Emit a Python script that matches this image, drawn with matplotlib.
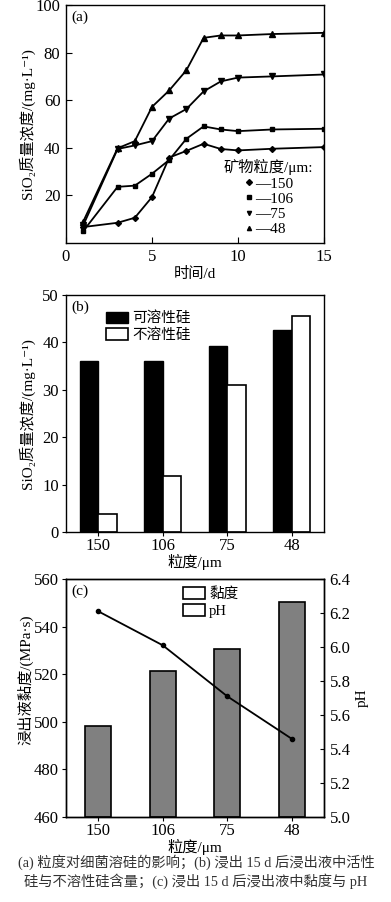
import numpy as np
import matplotlib
matplotlib.use("Agg")
import matplotlib.pyplot as plt
from matplotlib.patches import Patch

plt.rcParams['font.family'] = ['Liberation Serif', 'Noto Sans CJK SC', 'DejaVu Sans']
plt.rcParams['axes.linewidth'] = 1.0

# (a) SiO2 vs time
days = [1, 3, 4, 5, 6, 7, 8, 9, 10, 12, 15]
si_150 = [6.7, 8.5, 10.6, 19.3, 35.9, 38.7, 41.7, 39.5, 38.9, 39.6, 40.3]
si_106 = [5.0, 23.6, 24.1, 29.1, 34.9, 43.8, 49.0, 47.7, 47.0, 47.7, 48.0]
si_75 = [7.4, 39.5, 41.0, 42.8, 52.3, 56.3, 63.7, 67.9, 69.5, 70.0, 70.8]
si_48 = [9.0, 39.8, 42.8, 57.2, 64.1, 72.6, 86.2, 87.2, 87.2, 87.8, 88.3]
series_labels = ['\u2014150', '\u2014106', '\u201475', '\u201448']
series_markers = ['D', 's', 'v', '^']

# (b) soluble / insoluble Si
sizes = ['150', '106', '75', '48']
soluble = [36.1, 36.1, 39.2, 42.6]
insoluble = [3.9, 11.9, 31.0, 45.6]

# (c) viscosity and pH
viscosity = [498.2, 521.2, 530.5, 550.3]
ph = [6.21, 6.01, 5.71, 5.46]

fig = plt.figure(figsize=(3.91, 9.02), dpi=100)
W, H = 391, 902

def add_ax(top, bottom, left=66, right=324):
    return fig.add_axes([left / W, 1 - bottom / H, (right - left) / W, (bottom - top) / H])

fs_tick = 12
fs_lab = 11
si_label = 'SiO\u2082质量浓度/(mg·L\u207b\u00b9)'

# ---- (a)
ax1 = add_ax(5, 243)
for ys, m, lab, ms in zip([si_150, si_106, si_75, si_48], series_markers,
                          series_labels, [3, 3.5, 4, 4]):
    ax1.plot(days, ys, color='black', lw=1.3, marker=m, ms=ms, label=lab)
ax1.set_xlim(0, 15)
ax1.set_ylim(0, 100)
ax1.set_xticks([0, 5, 10, 15])
ax1.set_yticks([20, 40, 60, 80, 100])
ax1.tick_params(direction='in', length=4, labelsize=fs_tick, pad=4)
ax1.set_xlabel('时间/d', fontsize=fs_lab, labelpad=2)
ax1.set_ylabel(si_label, fontsize=fs_lab)
ax1.yaxis.set_label_coords(-0.12, 0.5)
ax1.text(0.02, 0.975, '(a)', transform=ax1.transAxes, fontsize=11, va='top', ha='left')
handles, labels = ax1.get_legend_handles_labels()
ax1.legend([plt.Line2D([], [], ls='none', marker=m, color='black', ms=3)
            for m in series_markers], labels,
           title='矿物粒度/μm:', frameon=False, fontsize=11,
           title_fontsize=11, loc='lower right', bbox_to_anchor=(0.995, -0.01),
           handlelength=0.6, handletextpad=0.1, labelspacing=0.1,
           borderaxespad=0.2)

# ---- (b)
ax2 = add_ax(295, 532)
x = np.arange(len(sizes))
w = 0.285
ax2.bar(x - w / 2, soluble, w, color='black', edgecolor='black', lw=1.0, label='可溶性硅')
ax2.bar(x + w / 2, insoluble, w, color='white', edgecolor='black', lw=1.2, label='不溶性硅')
ax2.set_xlim(-0.5, 3.5)
ax2.set_ylim(0, 50)
ax2.set_xticks(x)
ax2.set_xticklabels(sizes)
ax2.tick_params(direction='out', length=3, labelsize=fs_tick, pad=2)
ax2.tick_params(axis='x', pad=1)
ax2.set_xlabel('粒度/μm', fontsize=fs_lab, labelpad=0)
ax2.set_ylabel(si_label, fontsize=fs_lab)
ax2.yaxis.set_label_coords(-0.12, 0.5)
ax2.text(0.02, 0.975, '(b)', transform=ax2.transAxes, fontsize=11, va='top', ha='left')
ax2.legend(frameon=False, fontsize=10.5, loc='upper left', bbox_to_anchor=(0.155, 0.93),
           handlelength=1.5, handleheight=0.85, handletextpad=0.3, labelspacing=0.2,
           borderaxespad=0, borderpad=0)

# ---- (c)
ax3 = add_ax(579, 817)
w3 = 0.40
ax3.bar(x, [v - 460 for v in viscosity], w3, bottom=460, color='#808080',
        edgecolor='black', lw=1.2)
ax3.set_xlim(-0.5, 3.5)
ax3.set_ylim(460, 560)
ax3.set_yticks(np.arange(460, 561, 20))
ax3.set_xticks(x)
ax3.set_xticklabels(sizes)
ax3.tick_params(direction='out', length=3, labelsize=fs_tick, pad=2)
ax3.tick_params(axis='x', pad=1)
ax3.set_xlabel('粒度/μm', fontsize=fs_lab, labelpad=0)
ax3.set_ylabel('浸出液黏度/(MPa·s)', fontsize=fs_lab)
ax3.yaxis.set_label_coords(-0.128, 0.575)
ax3.text(0.02, 0.975, '(c)', transform=ax3.transAxes, fontsize=11, va='top', ha='left')

ax4 = ax3.twinx()
ax4.plot(x, ph, color='black', lw=1.3, marker='o', ms=3)
ax4.set_ylim(5.0, 6.4)
ph_ticks = np.arange(5.0, 6.41, 0.2)
ax4.set_yticks(ph_ticks)
ax4.set_yticklabels(['%.1f' % v for v in ph_ticks])
ax4.tick_params(direction='in', length=3, labelsize=fs_tick, pad=4)
ax4.set_ylabel('pH', fontsize=fs_lab, labelpad=4)

ax3.legend([Patch(facecolor='white', edgecolor='black', lw=1.2),
            Patch(facecolor='white', edgecolor='black', lw=1.2)],
           ['黏度', 'pH'], frameon=False, fontsize=10.5, loc='upper left',
           bbox_to_anchor=(0.453, 0.965), handlelength=1.5, handleheight=0.85,
           handletextpad=0.3, labelspacing=0.2, borderaxespad=0, borderpad=0)

# caption
fig.text(196 / W, 1 - 862 / H, '(a) 粒度对细菌溶硅的影响；(b) 浸出 15 d 后浸出液中活性',
         ha='center', va='center', fontsize=10.3, color='#333333')
fig.text(196 / W, 1 - 881 / H, '硅与不溶性硅含量；(c) 浸出 15 d 后浸出液中黏度与 pH',
         ha='center', va='center', fontsize=10.3, color='#333333')

fig.savefig('out.png', dpi=100)
